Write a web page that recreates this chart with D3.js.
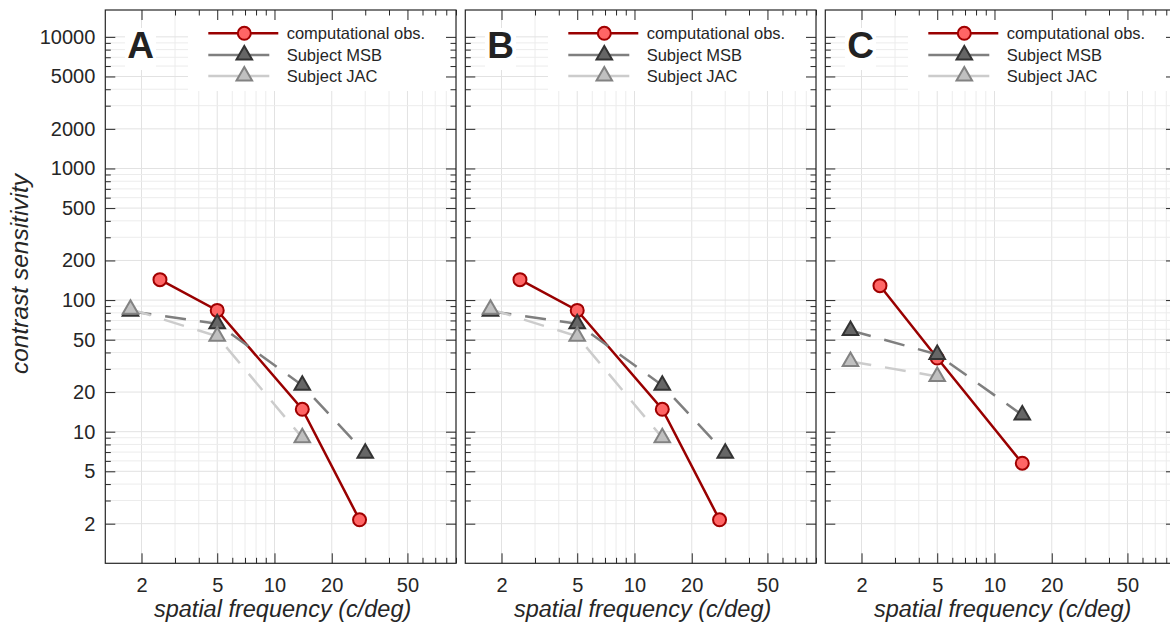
<!DOCTYPE html>
<html>
<head>
<meta charset="utf-8">
<script src="https://cdn.jsdelivr.net/npm/d3@7"></script>
<style>
  body { margin: 0; background: #fff; }
  svg { display: block; font-family: "Liberation Sans", Arial, Helvetica, sans-serif; }
</style>
</head>
<body>
<div class="main"></div>
<script>
//data
const panelLetters = ["A", "B", "C"];
const compFreq = [[2.5, 5, 14, 28], [2.5, 5, 14, 28], [2.5, 5, 14]];
const compSens = [[143, 83.5, 14.8, 2.14], [143, 83.5, 14.8, 2.14], [128.7, 36.3, 5.76]];
const msbFreq = [[1.75, 5, 14, 30], [1.75, 5, 14, 30], [1.75, 5, 14]];
const msbSens = [[82.3, 66.1, 22.5, 6.87], [82.3, 66.1, 22.5, 6.87], [58.8, 38.6, 13.4]];
const jacFreq = [[1.75, 5, 14], [1.75, 5, 14], [1.75, 5]];
const jacSens = [[85.3, 53.1, 9], [85.3, 53.1, 9], [34.2, 26.3]];
const legendLabels = ["computational obs.", "Subject MSB", "Subject JAC"];
const xTickLabels = [2, 5, 10, 20, 50];
const yTickLabels = [2, 5, 10, 20, 50, 100, 200, 500, 1000, 2000, 5000, 10000];
const minorSteps = [3, 4, 6, 7, 8, 9];
const xMinor = [1, 10].flatMap(d => minorSteps.map(m => m * d));
const yMinor = [1, 10, 100, 1000].flatMap(d => minorSteps.map(m => m * d));

//layout
const W = 1170, H = 631;
const padLeft = 105.3, padTop = 10, step = 360;
const w = 350.7, h = 553.3;
const textColor = "#262626";

//scales
const x = d3.scaleLog().domain([1.29, 90]).range([0, w]);
const y = d3.scaleLog().domain([1, 16000]).range([h, 0]);

const svg = d3.select(".main")
  .append("svg")
  .attr("width", W)
  .attr("height", H);

const line = d3.line()
  .x(d => x(d[0]))
  .y(d => y(d[1]));

const tri = d3.symbol().type(d3.symbolTriangle).size(105);

panelLetters.forEach((letter, i) => {
  const g = svg.append("g")
    .attr("transform", "translate(" + (padLeft + i * step) + "," + padTop + ")");

  //grid
  const grid = g.append("g");
  grid.selectAll(".gx")
    .data(xTickLabels.concat(xMinor))
    .enter().append("line")
    .attr("x1", d => x(d)).attr("x2", d => x(d))
    .attr("y1", 0).attr("y2", h)
    .attr("stroke", (d) => xTickLabels.includes(d) ? "#e2e2e2" : "#ececec");
  grid.selectAll(".gy")
    .data(yTickLabels.concat(yMinor))
    .enter().append("line")
    .attr("y1", d => y(d)).attr("y2", d => y(d))
    .attr("x1", 0).attr("x2", w)
    .attr("stroke", (d) => yTickLabels.includes(d) ? "#e2e2e2" : "#ececec");

  //white boxes behind letter and legend
  g.append("rect").attr("x", 82.7).attr("y", 0).attr("width", w - 82.7).attr("height", 81).attr("fill", "#fff");
  g.append("rect").attr("x", 19.7).attr("y", 18).attr("width", 31).attr("height", 42).attr("fill", "#fff");

  //axes
  const fmt = i === 0 ? d3.format("d") : "";
  const axes = [
    [d3.axisBottom(x).tickValues(xTickLabels).tickSize(-10).tickPadding(14.5).tickFormat(d3.format("d")), "translate(0," + h + ")"],
    [d3.axisBottom(x).tickValues(xMinor).tickSize(-5.5).tickFormat(""), "translate(0," + h + ")"],
    [d3.axisTop(x).tickValues(xTickLabels).tickSize(-10).tickFormat(""), "translate(0,0)"],
    [d3.axisTop(x).tickValues(xMinor).tickSize(-5.5).tickFormat(""), "translate(0,0)"],
    [d3.axisLeft(y).tickValues(yTickLabels).tickSize(-10).tickPadding(10).tickFormat(fmt), "translate(0,0)"],
    [d3.axisLeft(y).tickValues(yMinor).tickSize(-5.5).tickFormat(""), "translate(0,0)"],
    [d3.axisRight(y).tickValues(yTickLabels).tickSize(-10).tickFormat(""), "translate(" + w + ",0)"],
    [d3.axisRight(y).tickValues(yMinor).tickSize(-5.5).tickFormat(""), "translate(" + w + ",0)"]
  ];
  axes.forEach(a => {
    const ax = g.append("g").attr("transform", a[1]).call(a[0]);
    ax.select(".domain").remove();
    ax.selectAll("line").attr("stroke", textColor);
    ax.selectAll("text").attr("fill", textColor).style("font-size", "20px").style("font-family", "inherit");
  });

  g.append("rect")
    .attr("width", w).attr("height", h)
    .attr("fill", "none")
    .attr("stroke", textColor)
    .attr("stroke-width", 1.2);

  //series
  const comp = compFreq[i].map((f, k) => [f, compSens[i][k]]);
  const msb = msbFreq[i].map((f, k) => [f, msbSens[i][k]]);
  const jac = jacFreq[i].map((f, k) => [f, jacSens[i][k]]);

  g.append("path").datum(comp).attr("d", line)
    .attr("fill", "none").attr("stroke", "#990000").attr("stroke-width", 2.5);
  g.selectAll(".comp").data(comp).enter().append("circle")
    .attr("cx", d => x(d[0])).attr("cy", d => y(d[1])).attr("r", 6.5)
    .attr("fill", "#ff6666").attr("stroke", "#a00000").attr("stroke-width", 2);

  g.append("path").datum(msb).attr("d", line)
    .attr("fill", "none").attr("stroke", "#7f7f7f").attr("stroke-width", 2.5)
    .attr("stroke-dasharray", "21,14");
  g.selectAll(".msb").data(msb).enter().append("path")
    .attr("d", tri)
    .attr("transform", d => "translate(" + x(d[0]) + "," + y(d[1]) + ")")
    .attr("fill", "#666666").attr("stroke", "#333333").attr("stroke-width", 2);

  g.append("path").datum(jac).attr("d", line)
    .attr("fill", "none").attr("stroke", "#cccccc").attr("stroke-width", 2.5)
    .attr("stroke-dasharray", "21,14");
  g.selectAll(".jac").data(jac).enter().append("path")
    .attr("d", tri)
    .attr("transform", d => "translate(" + x(d[0]) + "," + y(d[1]) + ")")
    .attr("fill", "#c0c0c0").attr("stroke", "#828282").attr("stroke-width", 2);

  //panel letter
  g.append("text")
    .attr("x", 22).attr("y", 48.3)
    .attr("fill", "#222")
    .style("font-size", "37px")
    .style("font-weight", "bold")
    .text(letter);

  //legend
  const rows = [23.3, 45, 66];
  const lg = g.append("g");
  lg.append("line").attr("x1", 103).attr("x2", 173).attr("y1", rows[0]).attr("y2", rows[0])
    .attr("stroke", "#990000").attr("stroke-width", 2.5);
  lg.append("circle").attr("cx", 139).attr("cy", rows[0]).attr("r", 6.5)
    .attr("fill", "#ff6666").attr("stroke", "#a00000").attr("stroke-width", 2);
  lg.append("line").attr("x1", 103).attr("x2", 164).attr("y1", rows[1]).attr("y2", rows[1])
    .attr("stroke", "#7f7f7f").attr("stroke-width", 2.5);
  lg.append("path").attr("d", tri).attr("transform", "translate(139," + rows[1] + ")")
    .attr("fill", "#666666").attr("stroke", "#333333").attr("stroke-width", 2);
  lg.append("line").attr("x1", 103).attr("x2", 164).attr("y1", rows[2]).attr("y2", rows[2])
    .attr("stroke", "#cccccc").attr("stroke-width", 2.5);
  lg.append("path").attr("d", tri).attr("transform", "translate(139," + rows[2] + ")")
    .attr("fill", "#c0c0c0").attr("stroke", "#828282").attr("stroke-width", 2);
  lg.selectAll(".lt").data(legendLabels).enter().append("text")
    .attr("x", 181.4).attr("y", (d, k) => rows[k])
    .attr("dy", "0.35em")
    .attr("fill", textColor)
    .style("font-size", "16.5px")
    .text(d => d);

  //x label
  g.append("text")
    .attr("x", w / 2 + 2).attr("y", 607)
    .attr("text-anchor", "middle")
    .attr("fill", textColor)
    .style("font-size", "23.5px")
    .style("font-style", "italic")
    .text("spatial frequency (c/deg)");
});

//y label
svg.append("text")
  .attr("transform", "translate(28,274) rotate(-90)")
  .attr("text-anchor", "middle")
  .attr("fill", textColor)
  .style("font-size", "24.5px")
  .style("font-style", "italic")
  .text("contrast sensitivity");
</script>
</body>
</html>
